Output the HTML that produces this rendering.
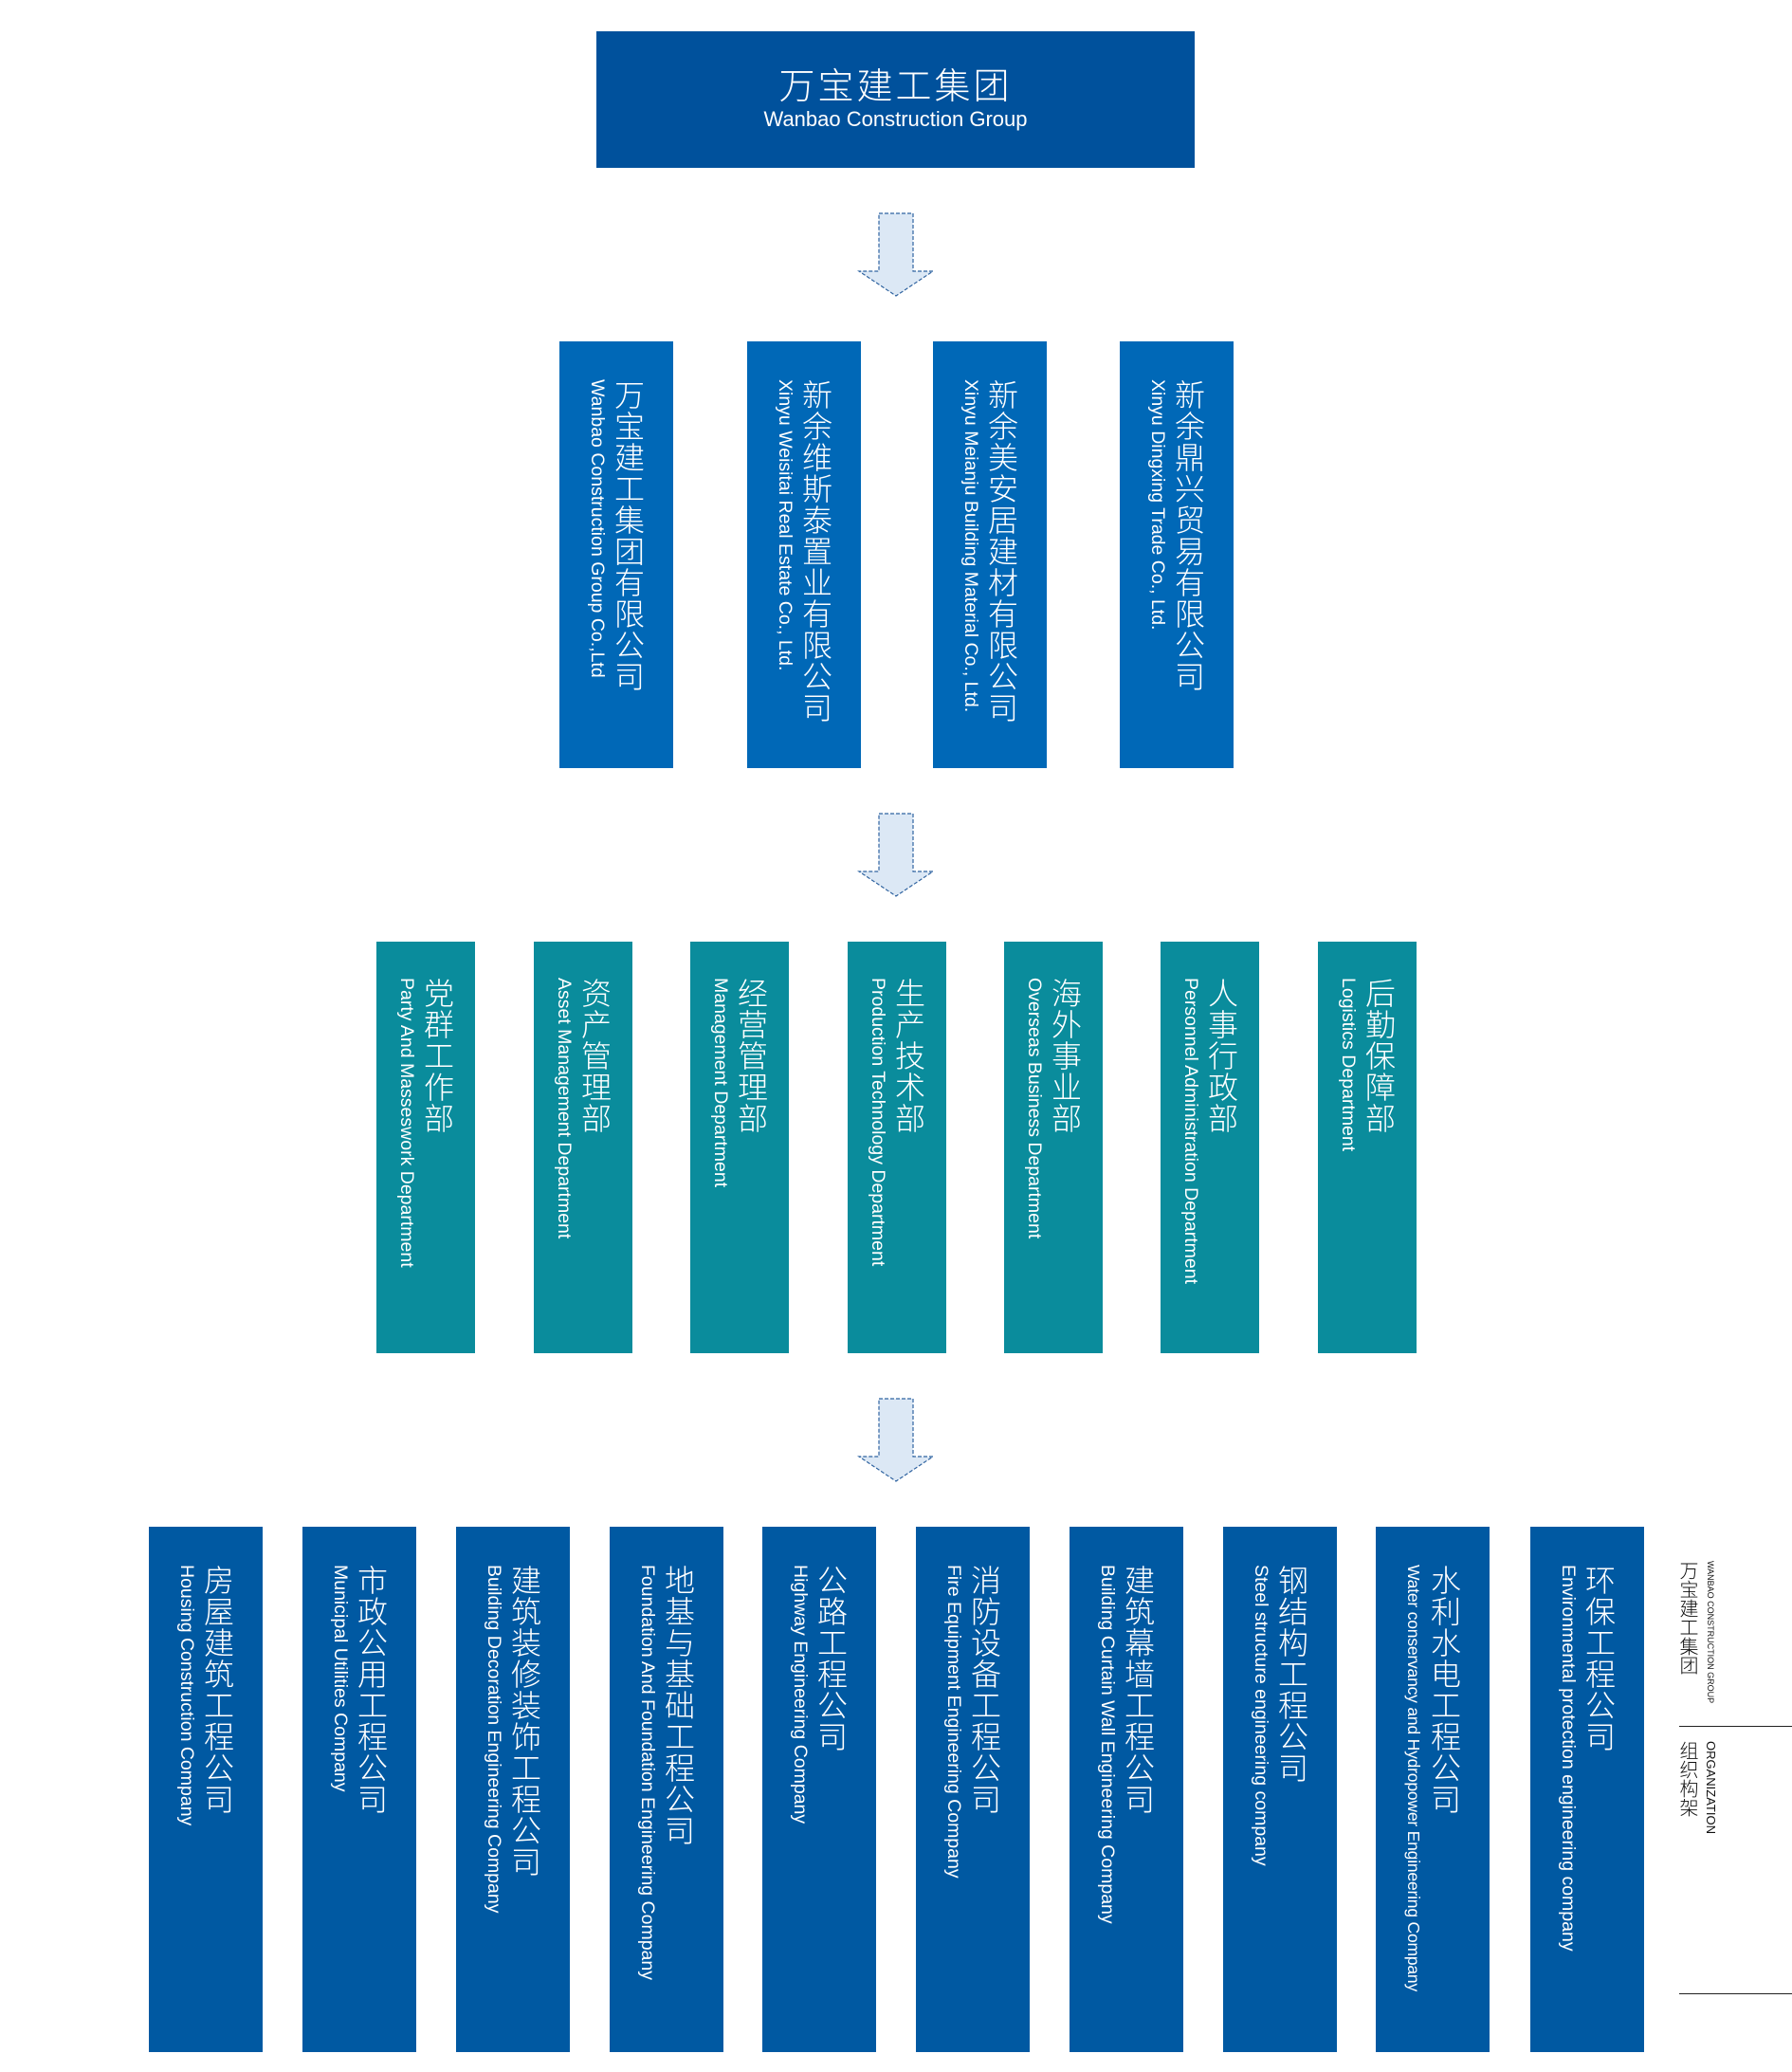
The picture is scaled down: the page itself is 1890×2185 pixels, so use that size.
<!DOCTYPE html>
<html><head><meta charset="utf-8"><style>
html,body{margin:0;padding:0;background:#fff;}
body{width:1890px;height:2185px;position:relative;overflow:hidden;font-family:"Liberation Sans","Noto Sans CJK SC",sans-serif;}
.b{position:absolute;color:#fff;box-sizing:border-box;overflow:hidden;}
.t{writing-mode:vertical-rl;white-space:nowrap;position:absolute;left:50%;transform:translateX(-50%);}
.zh{display:block;font-family:"Noto Sans CJK SC",sans-serif;font-weight:300;font-size:32px;line-height:36px;letter-spacing:1px;}
.en{display:block;font-size:19.5px;line-height:24px;margin-right:4px;}
.l2{background:#0068b7;top:360px;height:450px;width:120px;}
.l2 .t{top:40px;}
.l3{background:#0a8c9c;top:993px;height:434px;width:104px;}
.l3 .t{top:38px;}
.l4{background:#0059a2;top:1610px;height:554px;width:120px;}
.l4 .t{top:40px;}
.arr{position:absolute;left:904px;width:82px;height:90px;}
</style></head><body>
<div style="position:absolute;left:629px;top:33px;width:631px;height:144px;background:#00519c;color:#fff;text-align:center;">
<div style="font-family:'Noto Sans CJK SC',sans-serif;font-weight:300;font-size:38px;line-height:44px;margin-top:33px;letter-spacing:3px;">万宝建工集团</div>
<div style="font-size:22px;line-height:28px;margin-top:2px;">Wanbao Construction Group</div>
</div>

<svg class="arr" style="top:224px" viewBox="0 0 82 90"><polygon points="23,1 59,1 59,62 80,62 41,88 2,62 23,62" fill="#dce8f5" stroke="#2f63a0" stroke-width="1.2" stroke-dasharray="4,2"/></svg>
<svg class="arr" style="top:857px" viewBox="0 0 82 90"><polygon points="23,1 59,1 59,62 80,62 41,88 2,62 23,62" fill="#dce8f5" stroke="#2f63a0" stroke-width="1.2" stroke-dasharray="4,2"/></svg>
<svg class="arr" style="top:1474px" viewBox="0 0 82 90"><polygon points="23,1 59,1 59,62 80,62 41,88 2,62 23,62" fill="#dce8f5" stroke="#2f63a0" stroke-width="1.2" stroke-dasharray="4,2"/></svg>

<div class="b l2" style="left:590px"><div class="t"><span class="zh">万宝建工集团有限公司</span><span class="en">Wanbao Construction Group Co.,Ltd</span></div></div>
<div class="b l2" style="left:788px"><div class="t"><span class="zh">新余维斯泰置业有限公司</span><span class="en">Xinyu Weisitai Real Estate Co., Ltd.</span></div></div>
<div class="b l2" style="left:984px"><div class="t"><span class="zh">新余美安居建材有限公司</span><span class="en">Xinyu Meianju Building Material Co., Ltd.</span></div></div>
<div class="b l2" style="left:1181px"><div class="t"><span class="zh">新余鼎兴贸易有限公司</span><span class="en">Xinyu Dingxing Trade Co., Ltd.</span></div></div>

<div class="b l3" style="left:397px"><div class="t"><span class="zh">党群工作部</span><span class="en">Party And Masseswork Department</span></div></div>
<div class="b l3" style="left:563px"><div class="t"><span class="zh">资产管理部</span><span class="en">Asset Management Department</span></div></div>
<div class="b l3" style="left:728px"><div class="t"><span class="zh">经营管理部</span><span class="en">Management Department</span></div></div>
<div class="b l3" style="left:894px"><div class="t"><span class="zh">生产技术部</span><span class="en">Production Technology Department</span></div></div>
<div class="b l3" style="left:1059px"><div class="t"><span class="zh">海外事业部</span><span class="en">Overseas Business Department</span></div></div>
<div class="b l3" style="left:1224px"><div class="t"><span class="zh">人事行政部</span><span class="en">Personnel Administration Department</span></div></div>
<div class="b l3" style="left:1390px"><div class="t"><span class="zh">后勤保障部</span><span class="en">Logistics Department</span></div></div>

<div class="b l4" style="left:157px"><div class="t"><span class="zh">房屋建筑工程公司</span><span class="en">Housing Construction Company</span></div></div>
<div class="b l4" style="left:319px"><div class="t"><span class="zh">市政公用工程公司</span><span class="en">Municipal Utilities Company</span></div></div>
<div class="b l4" style="left:481px"><div class="t"><span class="zh">建筑装修装饰工程公司</span><span class="en">Building Decoration Engineering Company</span></div></div>
<div class="b l4" style="left:643px"><div class="t"><span class="zh">地基与基础工程公司</span><span class="en">Foundation And Foundation Engineering Company</span></div></div>
<div class="b l4" style="left:804px"><div class="t"><span class="zh">公路工程公司</span><span class="en">Highway Engineering Company</span></div></div>
<div class="b l4" style="left:966px"><div class="t"><span class="zh">消防设备工程公司</span><span class="en">Fire Equipment Engineering Company</span></div></div>
<div class="b l4" style="left:1128px"><div class="t"><span class="zh">建筑幕墙工程公司</span><span class="en">Building Curtain Wall Engineering Company</span></div></div>
<div class="b l4" style="left:1290px"><div class="t"><span class="zh">钢结构工程公司</span><span class="en">Steel structure engineering company</span></div></div>
<div class="b l4" style="left:1451px"><div class="t"><span class="zh">水利水电工程公司</span><span class="en" style="font-size:17.5px;letter-spacing:-0.2px;">Water conservancy and Hydropower Engineering Company</span></div></div>
<div class="b l4" style="left:1614px"><div class="t"><span class="zh">环保工程公司</span><span class="en">Environmental protection engineering company</span></div></div>

<div style="position:absolute;left:1770px;top:1646px;writing-mode:vertical-lr;white-space:nowrap;color:#111;">
<span style="display:block;font-family:'Noto Sans CJK SC',sans-serif;font-weight:300;font-size:20px;line-height:22px;">万宝建工集团</span>
<span style="display:block;font-size:9px;line-height:12px;margin-left:6px;">WANBAO CONSTRUCTION GROUP</span>
</div>
<div style="position:absolute;left:1771px;top:1820px;width:119px;height:1px;background:#222;"></div>
<div style="position:absolute;left:1770px;top:1836px;writing-mode:vertical-lr;white-space:nowrap;color:#111;">
<span style="display:block;font-family:'Noto Sans CJK SC',sans-serif;font-weight:300;font-size:20px;line-height:22px;">组织构架</span>
<span style="display:block;font-size:13px;line-height:14px;margin-left:5px;">ORGANIZATION</span>
</div>
<div style="position:absolute;left:1771px;top:2102px;width:119px;height:1px;background:#222;"></div>
</body></html>
